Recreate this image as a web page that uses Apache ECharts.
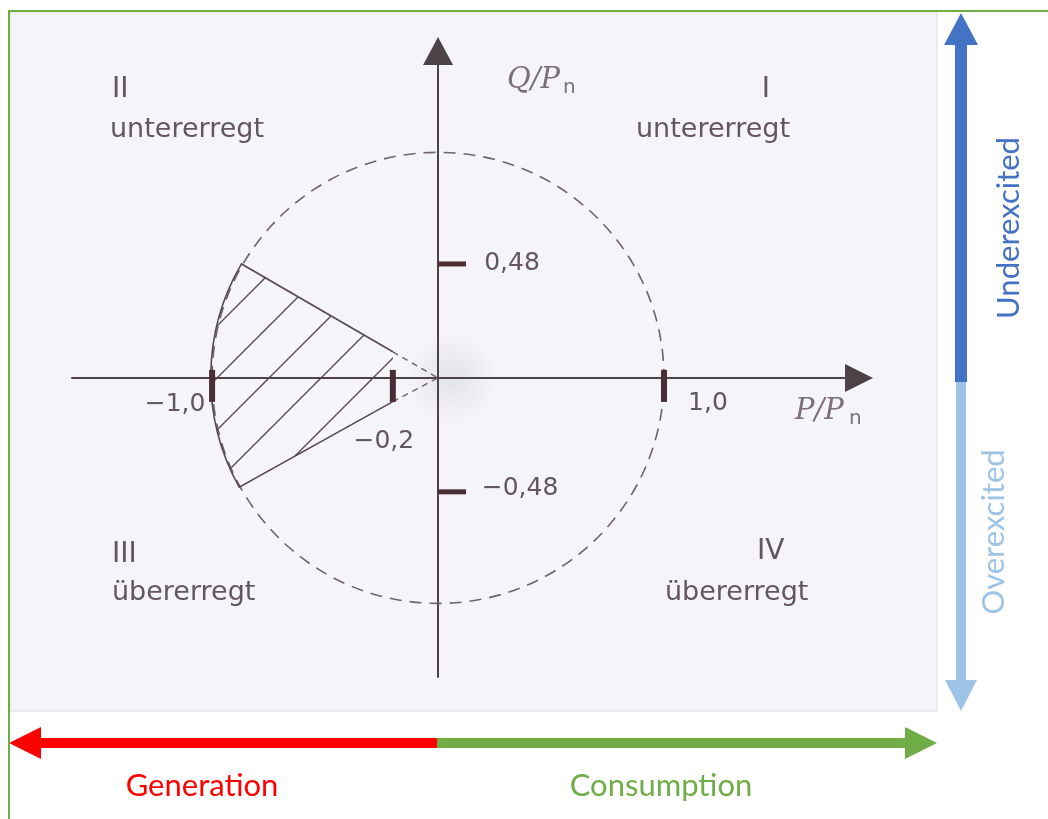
<!DOCTYPE html>
<html>
<head>
<meta charset="utf-8">
<script src="https://cdn.jsdelivr.net/npm/echarts@6/dist/echarts.min.js"></script>
<style>
html, body { margin: 0; padding: 0; background: #fff; }
#chart { width: 1048px; height: 819px; }
</style>
</head>
<body>
<div id="chart"></div>
<script>
// values, in P/Pn and Q/Pn units
var pTicks = [-1.0, -0.2, 1.0];
var pTickLabels = ['\u22121,0', '\u22120,2', '1,0'];
var qTicks = [0.48, -0.48];
var qTickLabels = ['0,48', '\u22120,48'];
var circleRadius = [1.0, 0.95];                   // dashed S = Sn curve (P, Q half axes as drawn)
var hatchOuter = [[-0.87, 0.48], [-0.88, -0.46]];  // limit lines meet the curve
var hatchInner = [[-0.2, 0.11], [-0.2, -0.10]];    // limit lines turn dashed
var origin = [0, 0];

var quadNums = ['I', 'II', 'III', 'IV'];
var quadTexts = ['untererregt', 'untererregt', '\u00fcbererregt', '\u00fcbererregt'];

var inkColor = '#574a50';
var textColor = '#62575d';

var chart = echarts.init(document.getElementById('chart'));

function hatchPattern() {
    var s = 52;
    var c = document.createElement('canvas');
    c.width = s; c.height = s;
    var ctx = c.getContext('2d');
    ctx.strokeStyle = inkColor;
    ctx.lineWidth = 1.4;
    ctx.beginPath();
    ctx.moveTo(-3, 26); ctx.lineTo(26, -3);
    ctx.moveTo(20, 55); ctx.lineTo(55, 20);
    ctx.stroke();
    return c;
}
var pattern = hatchPattern();

// tick label placement (relative to tick mark centre)
var pLabelOffset = [[-37, 19], [-9, 56], [44, 18]];
var qLabelOffset = [[60, 0], [68, -3]];

var pTickData = pTicks.map(function (p, i) {
    return { value: [p, 0], label: { formatter: pTickLabels[i], offset: pLabelOffset[i] } };
});
var qTickData = qTicks.map(function (q, i) {
    return { value: [0, q], label: { formatter: qTickLabels[i], offset: qLabelOffset[i] } };
});

var tickLabel = {
    show: true,
    position: 'inside',
    color: textColor,
    fontFamily: 'DejaVu Sans',
    fontSize: 25
};

function txt(x, y, s, opt) {
    opt = opt || {};
    return {
        type: 'text', x: x, y: y, rotation: opt.rotation || 0, z: 10,
        style: {
            text: s,
            fill: opt.color || textColor,
            font: opt.font || '27px "DejaVu Sans"',
            align: opt.align || 'left',
            verticalAlign: 'middle'
        }
    };
}

var graphics = [
    // scanned page
    { type: 'rect', z: -100, shape: { x: 10, y: 12, width: 927, height: 699 },
      style: { fill: '#f4f4f9', stroke: '#dcdce2', lineWidth: 1 } },
    { type: 'circle', z: -90, shape: { cx: 452, cy: 378, r: 46 },
      style: { fill: { type: 'radial', x: 0.5, y: 0.5, r: 0.5,
        colorStops: [{ offset: 0, color: 'rgba(205,205,215,0.45)' }, { offset: 1, color: 'rgba(205,205,215,0)' }] } } },
    // frame
    { type: 'polyline', z: 20, shape: { points: [[9, 819], [9, 11], [1048, 11]] },
      style: { stroke: '#70ad47', lineWidth: 2, fill: 'none' } },
    // excitation arrow
    { type: 'rect', z: 5, shape: { x: 955, y: 42, width: 12, height: 340 }, style: { fill: '#4472c4' } },
    { type: 'polygon', z: 5, shape: { points: [[961, 13], [944, 45], [978, 45]] }, style: { fill: '#4472c4' } },
    { type: 'rect', z: 5, shape: { x: 956, y: 382, width: 10, height: 300 }, style: { fill: '#9dc3e6' } },
    { type: 'polygon', z: 5, shape: { points: [[945, 680], [977, 680], [961, 711]] }, style: { fill: '#9dc3e6' } },
    // power flow arrow
    { type: 'rect', z: 5, shape: { x: 38, y: 738, width: 400, height: 10 }, style: { fill: '#ff0000' } },
    { type: 'polygon', z: 5, shape: { points: [[9, 743], [41, 727], [41, 759]] }, style: { fill: '#ff0000' } },
    { type: 'rect', z: 5, shape: { x: 437, y: 738, width: 470, height: 10 }, style: { fill: '#70ad47' } },
    { type: 'polygon', z: 5, shape: { points: [[937, 743], [905, 727], [905, 759]] }, style: { fill: '#70ad47' } },
    txt(202, 786, 'Generation', { color: '#ff0000', font: '31px Lato', align: 'center' }),
    txt(661, 786, 'Consumption', { color: '#70ad47', font: '31px Lato', align: 'center' }),
    txt(1009, 228, 'Underexcited', { color: '#4472c4', font: '31px Lato', align: 'center', rotation: Math.PI / 2 }),
    txt(994, 532, 'Overexcited', { color: '#9dc3e6', font: '31px Lato', align: 'center', rotation: Math.PI / 2 }),
    // quadrants
    txt(766, 90, quadNums[0], { font: '28px "DejaVu Sans"', align: 'center' }),
    txt(636, 130, quadTexts[0]),
    txt(112, 90, quadNums[1], { font: '28px "DejaVu Sans"' }),
    txt(110, 130, quadTexts[1]),
    txt(112, 555, quadNums[2], { font: '28px "DejaVu Sans"' }),
    txt(112, 593, quadTexts[2]),
    txt(757, 552, quadNums[3], { font: '28px "DejaVu Sans"' }),
    txt(665, 593, quadTexts[3]),
    // axis names
    txt(507, 80, 'Q/P', { font: 'italic 29px "DejaVu Serif"', color: '#7a7075' }),
    txt(563, 88, 'n', { font: '20px "DejaVu Sans"', color: '#7a7075' }),
    txt(795, 411, 'P/P', { font: 'italic 29px "DejaVu Serif"', color: '#7a7075' }),
    txt(849, 419, 'n', { font: '20px "DejaVu Sans"', color: '#7a7075' })
];

var axisLineStyle = { color: '#4d4247', width: 2 };

var option = {
    backgroundColor: '#ffffff',
    animation: false,
    grid: { left: 72, top: 51, width: 787, height: 626 },
    xAxis: {
        type: 'value', min: -1.62, max: 1.863,
        axisLine: { onZero: true, lineStyle: axisLineStyle, symbol: ['none', 'triangle'], symbolSize: [28, 28] },
        axisTick: { show: false }, axisLabel: { show: false }, splitLine: { show: false }
    },
    yAxis: {
        type: 'value', min: -1.26, max: 1.377,
        axisLine: { onZero: true, lineStyle: axisLineStyle, symbol: ['none', 'triangle'], symbolSize: [30, 28] },
        axisTick: { show: false }, axisLabel: { show: false }, splitLine: { show: false }
    },
    graphic: graphics,
    series: [
        {
            type: 'custom',
            z: 3,
            silent: true,
            data: [origin],
            renderItem: function (params, api) {
                var o = api.coord(origin);
                var r = api.size(circleRadius);
                var uo = api.coord(hatchOuter[0]), lo = api.coord(hatchOuter[1]);
                var ui = api.coord(hatchInner[0]), li = api.coord(hatchInner[1]);
                var arc = ' A' + r[0] + ' ' + r[1] + ' 0 0 0 ' + lo[0] + ' ' + lo[1];
                var edge = 'M' + ui[0] + ' ' + ui[1] + ' L' + uo[0] + ' ' + uo[1] + arc + ' L' + li[0] + ' ' + li[1];
                return {
                    type: 'group',
                    children: [
                        { type: 'path', shape: { pathData: edge + ' Z' },
                          style: { fill: { image: pattern, repeat: 'repeat' }, stroke: 'none' } },
                        { type: 'ellipse', shape: { cx: o[0], cy: o[1], rx: r[0], ry: r[1] },
                          style: { fill: 'none', stroke: '#6e6469', lineWidth: 1.6, lineDash: [12, 8] } },
                        { type: 'path', shape: { pathData: edge },
                          style: { fill: 'none', stroke: inkColor, lineWidth: 1.6 } },
                        { type: 'line', shape: { x1: ui[0], y1: ui[1], x2: o[0], y2: o[1] },
                          style: { stroke: '#6e6469', lineWidth: 1.4, lineDash: [6, 5] } },
                        { type: 'line', shape: { x1: li[0], y1: li[1], x2: o[0], y2: o[1] },
                          style: { stroke: '#6e6469', lineWidth: 1.4, lineDash: [6, 5] } }
                    ]
                };
            }
        },
        {
            type: 'scatter',
            z: 4,
            silent: true,
            symbol: 'rect',
            symbolSize: [6, 32],
            symbolOffset: [0, 8],
            itemStyle: { color: '#4a2c33', opacity: 1 },
            label: tickLabel,
            data: pTickData
        },
        {
            type: 'scatter',
            z: 4,
            silent: true,
            symbol: 'rect',
            symbolSize: [28, 5],
            symbolOffset: [14, 0],
            itemStyle: { color: '#4a2c33', opacity: 1 },
            label: tickLabel,
            data: qTickData
        }
    ]
};

chart.setOption(option);
</script>
</body>
</html>
